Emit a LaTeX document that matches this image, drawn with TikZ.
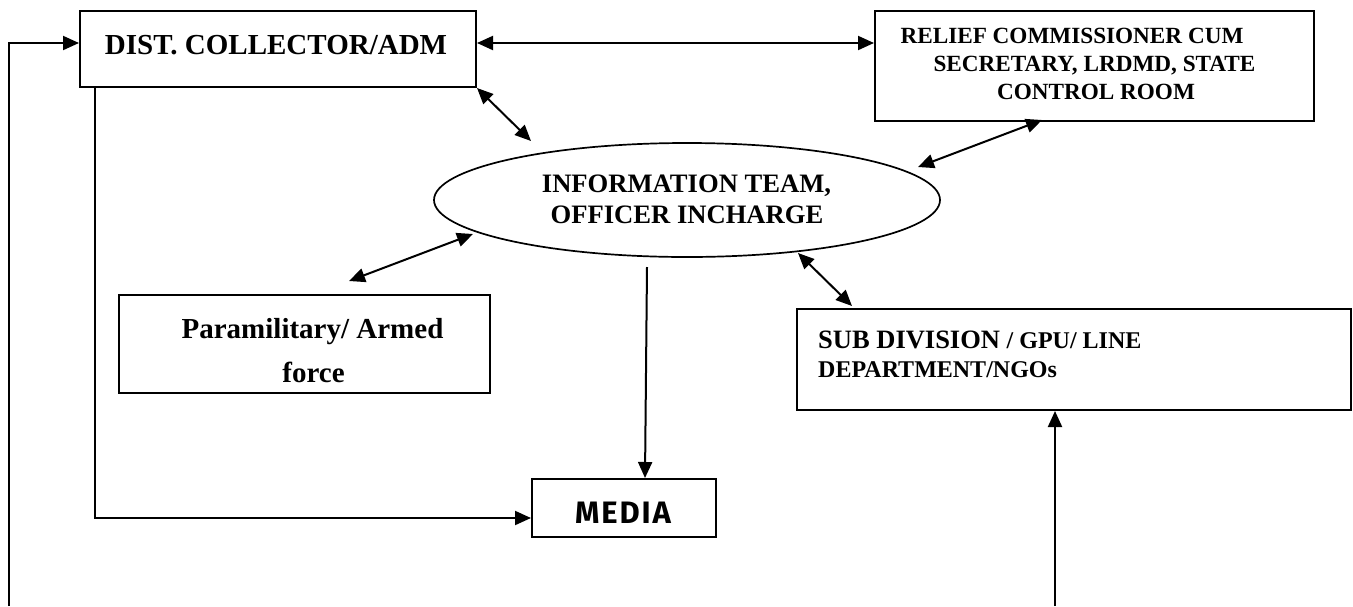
\documentclass[tikz,border=0pt]{standalone}
\usepackage{fontspec}
\setmainfont{Liberation Serif}
\newfontfamily\mediafont[LetterSpace=6]{Fira Sans}
\usetikzlibrary{arrows.meta,shapes.geometric}
\begin{document}
\begin{tikzpicture}[x=1pt,y=-1pt,
  box/.style={draw,line width=2pt,rectangle,inner sep=0pt,anchor=north west},
  oval/.style={draw,ellipse,line width=1.7pt,inner sep=0pt},
  conn/.style={line width=2pt,-{Triangle[length=16pt,width=14pt]}},
  biconn/.style={line width=2pt,{Triangle[length=16pt,width=14pt]}-{Triangle[length=16pt,width=14pt]}},
  lbl/.style={anchor=base,inner sep=0pt},
  lblw/.style={anchor=base west,inner sep=0pt},
  fa/.style={font=\bfseries\fontsize{29}{34}\selectfont},
  fb/.style={font=\bfseries\fontsize{23.2}{27}\selectfont},
  fc/.style={font=\bfseries\fontsize{26.6}{31}\selectfont},
  fd/.style={font=\bfseries\fontsize{24}{28}\selectfont},
  fm/.style={font=\mediafont\bfseries\fontsize{31}{36}\selectfont}
]
\useasboundingbox (0,0) rectangle (1353,606);

% boxes
\node[box,minimum width=396pt,minimum height=76pt] (dist) at (79,10) {};
\node[box,minimum width=439pt,minimum height=110pt] (relief) at (874,10) {};
\node[oval,minimum width=506pt,minimum height=114pt] (info) at (687,200) {};
\node[box,minimum width=371pt,minimum height=98pt] (para) at (118,294) {};
\node[box,minimum width=554pt,minimum height=101pt] (sub) at (796,308) {};
\node[box,minimum width=184pt,minimum height=58pt] (media) at (531,478) {};

% texts
\node[lbl,fa] (distt) at (276,54.3) {DIST. COLLECTOR/ADM};
\node[lbl,fb] (relt1) at (1072,43.5) {RELIEF COMMISSIONER CUM};
\node[lbl,fb] (relt2) at (1094.5,71) {SECRETARY, LRDMD, STATE};
\node[lbl,fb] (relt3) at (1096,99) {CONTROL ROOM};
\node[lbl,fc] (inft1) at (686.5,192) {INFORMATION TEAM,};
\node[lbl,fc] (inft2) at (687,223.5) {OFFICER INCHARGE};
\node[lbl,fa] (parat1) at (312.5,338) {Paramilitary/ Armed};
\node[lbl,fa] (parat2) at (313.5,382) {force};
\node[lblw] (subt1) at (818,348) {\fontsize{26.5}{31}\selectfont\bfseries SUB DIVISION \fontsize{24}{28}\selectfont / GPU/ LINE};
\node[lblw,fd] (subt2) at (818,377) {DEPARTMENT/NGOs};
\node[lbl,fm] (mediat) at (623,523) {MEDIA};

% free ends
\coordinate (lbot) at (9,606);
\coordinate (sbot) at (1055,606);
\coordinate (mtop) at (647,267);
\coordinate (di) at (531,141);
\coordinate (ri) at (918,167);
\coordinate (ri0) at (1042,120);
\coordinate (pi) at (473,234);
\coordinate (pp) at (349,281);
\coordinate (si) at (798,253);
\coordinate (ss) at (852,306);

% connectors
\draw[conn] (lbot) |- (dist.west |- 0,43);
\draw[biconn] (dist.east |- 0,43) -- (relief.west |- 0,43);
\draw[conn] (dist.south west -| 95,0) |- (media.west |- 0,518);
\draw[biconn] (dist.south east) -- (di);
\draw[biconn] (ri0) -- (ri);
\draw[biconn] (pi) -- (pp);
\draw[biconn] (si) -- (ss);
\draw[conn] (mtop) -- (media.north -| 645,0);
\draw[conn] (sbot) -- (sbot |- sub.south);
\end{tikzpicture}
\end{document}
